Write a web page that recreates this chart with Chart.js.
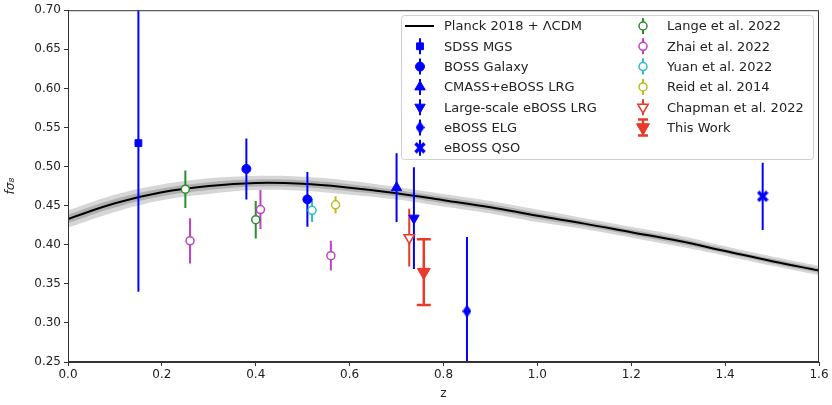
<!DOCTYPE html>
<html>
<head>
<meta charset="utf-8">
<script src="https://cdn.jsdelivr.net/npm/chart.js@4.4.0/dist/chart.umd.min.js"></script>
<style>
  html, body { margin: 0; padding: 0; background: #fff; }
  #wrap { width: 832px; height: 405px; }
</style>
</head>
<body>
<div id="wrap"><canvas id="fs8"></canvas></div>
<script>
// Planck 2018 + LCDM prediction
const planckZ = [0.0, 0.1, 0.2, 0.3, 0.4, 0.5, 0.6, 0.7, 0.8, 0.9, 1.0, 1.1, 1.2, 1.3, 1.4, 1.5, 1.6];
const planckF = [0.433, 0.453, 0.467, 0.475, 0.479, 0.478, 0.473, 0.466, 0.457, 0.448, 0.437, 0.427, 0.416, 0.405, 0.392, 0.379, 0.367];
const planckSig = [0.011, 0.011, 0.010, 0.010, 0.009, 0.009, 0.009, 0.008, 0.008, 0.008, 0.008, 0.007, 0.007, 0.007, 0.006, 0.006, 0.006];

// measurements: z, f sigma8, error
const sdssZ = [0.15], sdssF = [0.530], sdssE = [0.19];
const bossZ = [0.38, 0.51], bossF = [0.497, 0.458], bossE = [0.039, 0.035];
const cmassZ = [0.70], cmassF = [0.473], cmassE = [0.044];
const lsLrgZ = [0.737], lsLrgF = [0.434], lsLrgE = [0.065];
const elgZ = [0.85], elgF = [0.315], elgE = [0.095];
const qsoZ = [1.48], qsoF = [0.462], qsoE = [0.043];
const langeZ = [0.25, 0.40], langeF = [0.471, 0.432], langeE = [0.024, 0.024];
const zhaiZ = [0.26, 0.41, 0.56], zhaiF = [0.405, 0.445, 0.386], zhaiE = [0.029, 0.025, 0.019];
const yuanZ = [0.52], yuanF = [0.444], yuanE = [0.015];
const reidZ = [0.57], reidF = [0.451], reidE = [0.011];
const chapmanZ = [0.727], chapmanF = [0.409], chapmanE = [0.037];
const thisZ = [0.758], thisF = [0.365], thisE = [0.042];

const xTicks = [0.0, 0.2, 0.4, 0.6, 0.8, 1.0, 1.2, 1.4, 1.6];
const yTicks = [0.25, 0.30, 0.35, 0.40, 0.45, 0.50, 0.55, 0.60, 0.65, 0.70];

const BLUE = '#0000ff', RED = '#e8392a';

// small images for marker shapes chart.js does not have
function thinDiamond(color) {
  const c = document.createElement('canvas');
  c.width = 9; c.height = 13;
  const g = c.getContext('2d');
  g.fillStyle = color;
  g.beginPath(); g.moveTo(4.5, 0); g.lineTo(9, 6.5); g.lineTo(4.5, 13); g.lineTo(0, 6.5); g.closePath(); g.fill();
  return c;
}
function filledX(color) {
  const c = document.createElement('canvas');
  c.width = 12; c.height = 12;
  const g = c.getContext('2d');
  g.strokeStyle = color; g.lineWidth = 3.6; g.lineCap = 'butt';
  g.beginPath(); g.moveTo(1.5, 1.5); g.lineTo(10.5, 10.5); g.moveTo(10.5, 1.5); g.lineTo(1.5, 10.5); g.stroke();
  return c;
}
const diamondImg = thinDiamond(BLUE);
const xImg = filledX(BLUE);

function pts(zs, fs) { return zs.map((z, i) => ({ x: z, y: fs[i] })); }
function curve(fn) { return planckZ.map((z, i) => ({ x: z, y: fn(i) })); }

function series(label, zs, fs, es, color, style, extra) {
  return Object.assign({
    type: 'scatter', label: label, data: pts(zs, fs), err: es,
    pointStyle: style, pointRadius: 4.5, pointBackgroundColor: color,
    pointBorderColor: color, pointBorderWidth: 1, errColor: color, order: 0
  }, extra || {});
}
function openSeries(label, zs, fs, es, color) {
  return series(label, zs, fs, es, color, 'circle', { pointBackgroundColor: '#fff', pointBorderWidth: 1.5, pointRadius: 4 });
}

const datasets = [
  { type: 'line', label: 'bandOuterHi', data: curve(i => planckF[i] + planckSig[i]), borderWidth: 0, pointRadius: 0, fill: false, tension: 0.4, order: 3 },
  { type: 'line', label: 'bandOuterLo', data: curve(i => planckF[i] - planckSig[i]), borderWidth: 0, pointRadius: 0, fill: '-1', backgroundColor: 'rgba(0,0,0,0.16)', tension: 0.4, order: 3 },
  { type: 'line', label: 'bandInnerHi', data: curve(i => planckF[i] + planckSig[i] / 2), borderWidth: 0, pointRadius: 0, fill: false, tension: 0.4, order: 2 },
  { type: 'line', label: 'bandInnerLo', data: curve(i => planckF[i] - planckSig[i] / 2), borderWidth: 0, pointRadius: 0, fill: '-1', backgroundColor: 'rgba(0,0,0,0.18)', tension: 0.4, order: 2 },
  { type: 'line', label: 'Planck 2018 + ΛCDM', data: curve(i => planckF[i]), borderColor: '#000', borderWidth: 2, pointRadius: 0, fill: false, tension: 0.4, order: 1 },
  series('SDSS MGS', sdssZ, sdssF, sdssE, BLUE, 'rect', { pointRadius: 4.8 }),
  series('BOSS Galaxy', bossZ, bossF, bossE, BLUE, 'circle'),
  series('CMASS+eBOSS LRG', cmassZ, cmassF, cmassE, BLUE, 'triangle', { pointRadius: 6 }),
  series('Large-scale eBOSS LRG', lsLrgZ, lsLrgF, lsLrgE, BLUE, 'triangle', { pointRadius: 6, rotation: 180 }),
  series('eBOSS ELG', elgZ, elgF, elgE, BLUE, diamondImg),
  series('eBOSS QSO', qsoZ, qsoF, qsoE, BLUE, xImg),
  openSeries('Lange et al. 2022', langeZ, langeF, langeE, '#2e8b2e'),
  openSeries('Zhai et al. 2022', zhaiZ, zhaiF, zhaiE, '#c040c8'),
  openSeries('Yuan et al. 2022', yuanZ, yuanF, yuanE, '#30bcc8'),
  openSeries('Reid et al. 2014', reidZ, reidF, reidE, '#bcbc20'),
  series('Chapman et al. 2022', chapmanZ, chapmanF, chapmanE, RED, 'triangle', { pointRadius: 6, rotation: 180, pointBackgroundColor: '#fff', pointBorderWidth: 1.5 }),
  series('This Work', thisZ, thisF, thisE, RED, 'triangle', { pointRadius: 7.5, rotation: 180, capsize: 7, errWidth: 2.5 })
];

// error bars go over the Planck band but under the markers
const errorBars = {
  id: 'errorBars',
  afterDatasetDraw(chart, args) {
    if (chart.data.datasets[args.index].label !== 'Planck 2018 + ΛCDM') return;
    const ctx = chart.ctx, xs = chart.scales.x, ys = chart.scales.y, a = chart.chartArea;
    ctx.save();
    ctx.beginPath(); ctx.rect(a.left, a.top, a.right - a.left, a.bottom - a.top); ctx.clip();
    chart.data.datasets.forEach(ds => {
      if (!ds.err) return;
      ctx.strokeStyle = ds.errColor;
      ctx.lineWidth = ds.errWidth || 2;
      ds.data.forEach((p, i) => {
        const px = xs.getPixelForValue(p.x);
        const top = ys.getPixelForValue(p.y + ds.err[i]);
        const bot = ys.getPixelForValue(p.y - ds.err[i]);
        ctx.beginPath(); ctx.moveTo(px, top); ctx.lineTo(px, bot);
        if (ds.capsize) {
          ctx.moveTo(px - ds.capsize, top); ctx.lineTo(px + ds.capsize, top);
          ctx.moveTo(px - ds.capsize, bot); ctx.lineTo(px + ds.capsize, bot);
        }
        ctx.stroke();
      });
    });
    ctx.restore();
  }
};

// matplotlib style frame and two-column legend box
const frameAndLegend = {
  id: 'frameAndLegend',
  afterDraw(chart) {
    const ctx = chart.ctx, a = chart.chartArea;
    ctx.save();
    ctx.strokeStyle = '#333'; ctx.lineWidth = 1;
    ctx.strokeRect(a.left + 0.5, a.top + 0.5, a.right - a.left - 1, a.bottom - a.top - 1);

    const bx = 401, by = 15, bw = 412, bh = 144;
    ctx.fillStyle = 'rgba(255,255,255,0.85)';
    ctx.strokeStyle = '#d0d0d0';
    ctx.beginPath(); ctx.roundRect(bx + 0.5, by + 0.5, bw, bh, 3); ctx.fill(); ctx.stroke();

    const entries = chart.data.datasets.filter(d => !d.label.startsWith('band'));
    const rowH = 20.3;
    entries.forEach((ds, k) => {
      const col = k < 7 ? 0 : 1;
      const row = k < 7 ? k : k - 7;
      const mx = col === 0 ? 420 : 643;
      const tx = col === 0 ? 444 : 667;
      const my = 26 + row * rowH;
      if (ds.type === 'line') {
        ctx.strokeStyle = '#000'; ctx.lineWidth = 2;
        ctx.beginPath(); ctx.moveTo(405, my); ctx.lineTo(434, my); ctx.stroke();
      } else {
        ctx.strokeStyle = ds.errColor; ctx.lineWidth = ds.errWidth || 2;
        ctx.beginPath(); ctx.moveTo(mx, my - 8); ctx.lineTo(mx, my + 8);
        if (ds.capsize) {
          ctx.moveTo(mx - 5, my - 8); ctx.lineTo(mx + 5, my - 8);
          ctx.moveTo(mx - 5, my + 8); ctx.lineTo(mx + 5, my + 8);
        }
        ctx.stroke();
        ctx.fillStyle = ds.pointBackgroundColor;
        ctx.strokeStyle = ds.pointBorderColor;
        ctx.lineWidth = ds.pointBorderWidth;
        Chart.helpers.drawPoint(ctx, {
          pointStyle: ds.pointStyle, rotation: ds.rotation || 0,
          radius: ds.pointRadius, borderWidth: ds.pointBorderWidth
        }, mx, my);
      }
      ctx.fillStyle = '#222';
      ctx.font = '13px "DejaVu Sans"';
      ctx.textBaseline = 'middle';
      ctx.fillText(ds.label, tx, my + 1);
    });
    ctx.restore();
  }
};

new Chart(document.getElementById('fs8'), {
  type: 'scatter',
  data: { datasets: datasets },
  options: {
    responsive: true,
    maintainAspectRatio: false,
    animation: false,
    layout: { padding: { left: 0, right: 13, top: 8, bottom: 0 } },
    plugins: { legend: { display: false }, tooltip: { enabled: false } },
    scales: {
      x: {
        type: 'linear', min: 0, max: 1.6,
        afterBuildTicks: s => { s.ticks = xTicks.map(v => ({ value: v })); },
        afterFit: s => { s.height = 43; },
        grid: { drawOnChartArea: false, drawTicks: true, tickLength: 4, color: '#333' },
        border: { color: '#333' },
        ticks: { color: '#222', font: { family: 'DejaVu Sans', size: 12 }, padding: 2, maxRotation: 0,
                 callback: v => v.toFixed(1) },
        title: { display: true, text: 'z', color: '#222', font: { family: 'DejaVu Sans', size: 12 }, padding: { top: 3 } }
      },
      y: {
        type: 'linear', min: 0.25, max: 0.70,
        afterBuildTicks: s => { s.ticks = yTicks.map(v => ({ value: v })); },
        afterFit: s => { s.width = 68; },
        grid: { drawOnChartArea: false, drawTicks: true, tickLength: 4, color: '#333' },
        border: { color: '#333' },
        ticks: { color: '#222', font: { family: 'DejaVu Sans', size: 12 }, padding: 3,
                 callback: v => v.toFixed(2) },
        title: { display: true, text: 'fσ₈', color: '#222', font: { family: 'DejaVu Sans', size: 12, style: 'italic' }, padding: { bottom: 2 } }
      }
    }
  },
  plugins: [errorBars, frameAndLegend]
});
</script>
</body>
</html>
